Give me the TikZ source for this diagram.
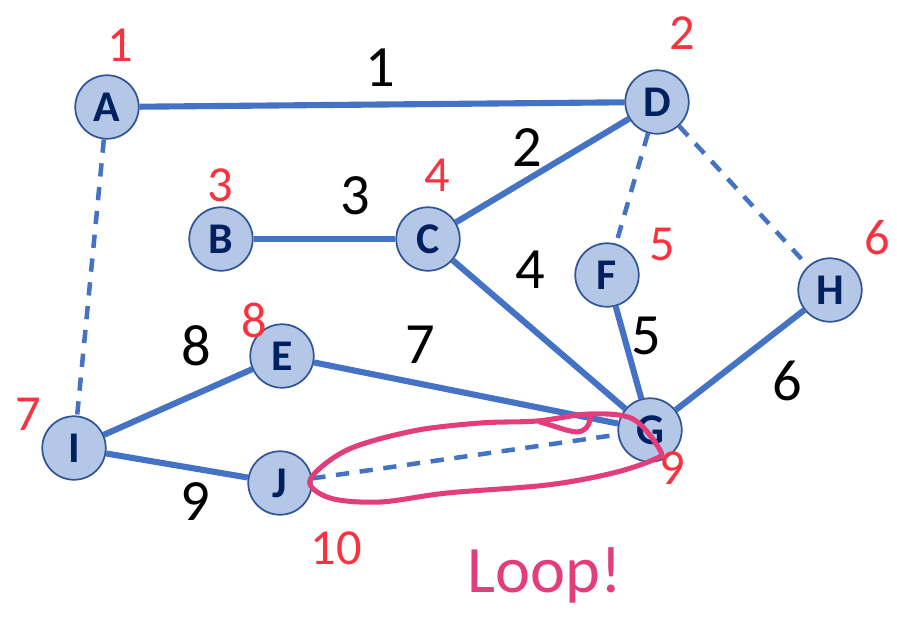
\documentclass[tikz,border=0pt]{standalone}
\usepackage{fontspec}
\setmainfont{Carlito}
\usetikzlibrary{calc, backgrounds}
\usepackage{xcolor}
\definecolor{cNode}{HTML}{B4C7E7}
\definecolor{bNode}{HTML}{2F5597}
\definecolor{tNode}{HTML}{002060}
\definecolor{cEdge}{HTML}{4472C4}
\definecolor{cOrd} {HTML}{F8333F}
\definecolor{cLoop}{HTML}{E33D7B}
\tikzset{
  vtx/.style={circle, draw=bNode, fill=cNode, line width=1.3pt,
              minimum size=1.68cm, inner sep=0pt, text=tNode,
              font=\fontsize{33}{33}\selectfont\bfseries},
  edge/.style={draw=cEdge, line width=4.6pt},
  dedge/.style={edge, line width=3.4pt, dash pattern=on 10pt off 8pt},
  wlbl/.style={font=\fontsize{44}{44}\selectfont, text=black},
  ordlbl/.style={font=\fontsize{38}{38}\selectfont, text=cOrd},
  loopline/.style={draw=cLoop, line width=3.8pt, line cap=round, line join=round},
}

\begin{document}
\begin{tikzpicture}[x=0.02646cm, y=-0.02646cm]

\useasboundingbox (0,0) rectangle (897,620);

% ── Vertices ──────────────────────────────────────────────────────────────────
\node[vtx] (A) at (107,107) {A};
\node[vtx] (D) at (657,102) {D};
\node[vtx] (B) at (221,239) {B};
\node[vtx] (C) at (428,239) {C};
\node[vtx] (F) at (607,275) {F};
\node[vtx] (H) at (830,290) {H};
\node[vtx] (E) at (282,356) {E};
\node[vtx] (I) at (74,448)  {I};
\node[vtx] (G) at (650,430) {G};
\node[vtx] (J) at (280,483) {J};

% ── Edges ─────────────────────────────────────────────────────────────────────
\begin{scope}[on background layer]
  \draw[edge] (A) -- (D);
  \draw[edge] (B) -- (C);
  \draw[edge] (C) -- (D);
  \draw[edge] (C) -- (G);
  \draw[edge] (E) -- (G);
  \draw[edge] (F) -- (G);
  \draw[edge] (G) -- (H);
  \draw[edge] (I) -- (E);
  \draw[edge] (I) -- (J);

  % dashed (non-tree) edges
  \draw[dedge] (A) -- (I);
  \draw[dedge] (D) -- (F);
  \draw[dedge] (D) -- (H);
  \draw[dedge] (J) -- (G);
\end{scope}

% ── Edge weights ──────────────────────────────────────────────────────────────
\node[wlbl] (w1) at (380,68)  {1};
\node[wlbl] (w2) at (527,148) {2};
\node[wlbl] (w3) at (355,196) {3};
\node[wlbl] (w4) at (530,270) {4};
\node[wlbl] (w5) at (646,336) {5};
\node[wlbl] (w6) at (787,381) {6};
\node[wlbl] (w7) at (420,345) {7};
\node[wlbl] (w8) at (196,346) {8};
\node[wlbl] (w9) at (195,502) {9};

% ── Visit order ───────────────────────────────────────────────────────────────
\node[ordlbl] (o1)  at (120,45)  {1};
\node[ordlbl] (o2)  at (682,33)  {2};
\node[ordlbl] (o3)  at (220,185) {3};
\node[ordlbl] (o4)  at (437,175) {4};
\node[ordlbl] (o5)  at (662,244) {5};
\node[ordlbl] (o6)  at (877,238) {6};
\node[ordlbl] (o7)  at (28,414)  {7};
\node[ordlbl] (o8)  at (254,320) {8};
\node[ordlbl] (o9)  at (672,468) {9};
\node[ordlbl] (o10) at (336,548) {10};

% ── Loop annotation ───────────────────────────────────────────────────────────
\draw[loopline] plot[smooth cycle, tension=0.55] coordinates {
  (310,480) (347,450) (413,431) (480,423) (537,421) (590,414) (633,419)
  (660,450) (655,459) (613,473) (547,485) (447,493) (380,502) (330,498)};
\draw[loopline] (540,422) .. controls (570,430) and (586,442) .. (591,416);
\node[font=\fontsize{50}{50}\selectfont, text=cLoop] (loop) at (545,575) {Loop!};

\end{tikzpicture}
\end{document}
